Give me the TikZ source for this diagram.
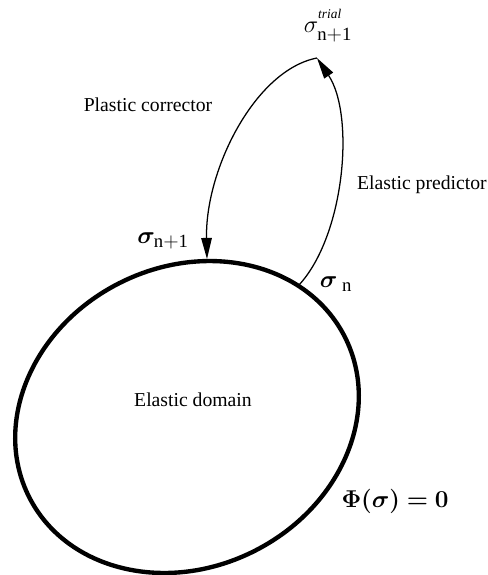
\documentclass[tikz,border=0pt]{standalone}
\usepackage{amsmath}
\usepackage{bm}
\usepackage{fontspec}
\setmainfont{Liberation Serif}
\usetikzlibrary{arrows.meta}
\tikzset{
	surface/.style={line width=3.1pt},
	flowarrow/.style={-{Triangle[length=15pt, width=7.5pt]}, line width=0.9pt},
	steplabel/.style={font=\fontsize{14}{16}\selectfont, inner sep=0pt},
	sigmalabel/.style={font=\fontsize{19}{22}\selectfont, inner sep=0pt},
}

\begin{document}
\begin{tikzpicture}[x=0.025cm, y=-0.025cm]
	\useasboundingbox (0,0) rectangle (488,575);
	% yield surface
	\draw[surface, rotate around={27:(187,417)}] (187,417) ellipse [x radius=177, y radius=150];
	\coordinate (sigN) at (299,285);
	\coordinate (sigNp) at (207,259);
	\coordinate (trial) at (317,58);
	% return mapping
	\draw[flowarrow] (sigN) .. controls (345,235) and (355,115) .. (trial);
	\draw[flowarrow] (trial) .. controls (255,70) and (205,170) .. (sigNp);
	% labels
	\node[sigmalabel] (trialLabel) at (328,26) {$\sigma^{\scriptscriptstyle\mathit{trial}\rule[-4pt]{0pt}{0pt}}_{\mathrm{n+1}}$};
	\node[sigmalabel] (sigNpLabel) at (163,241) {$\bm{\sigma}_{\mathrm{n+1}}$};
	\node[sigmalabel] (sigNLabel) at (336,284) {$\bm{\sigma}_{\;\mathrm{n}}$};
	\node[steplabel] (corrector) at (148,105) {Plastic corrector};
	\node[steplabel, anchor=east] (predictor) at (487,185) {Elastic predictor};
	\node[steplabel] (domain) at (193,400) {Elastic domain};
	\node[sigmalabel, font=\fontsize{17}{20}\selectfont] (yieldLabel) at (395,501) {$\bm{\Phi(\sigma)=0}$};
\end{tikzpicture}
\end{document}
